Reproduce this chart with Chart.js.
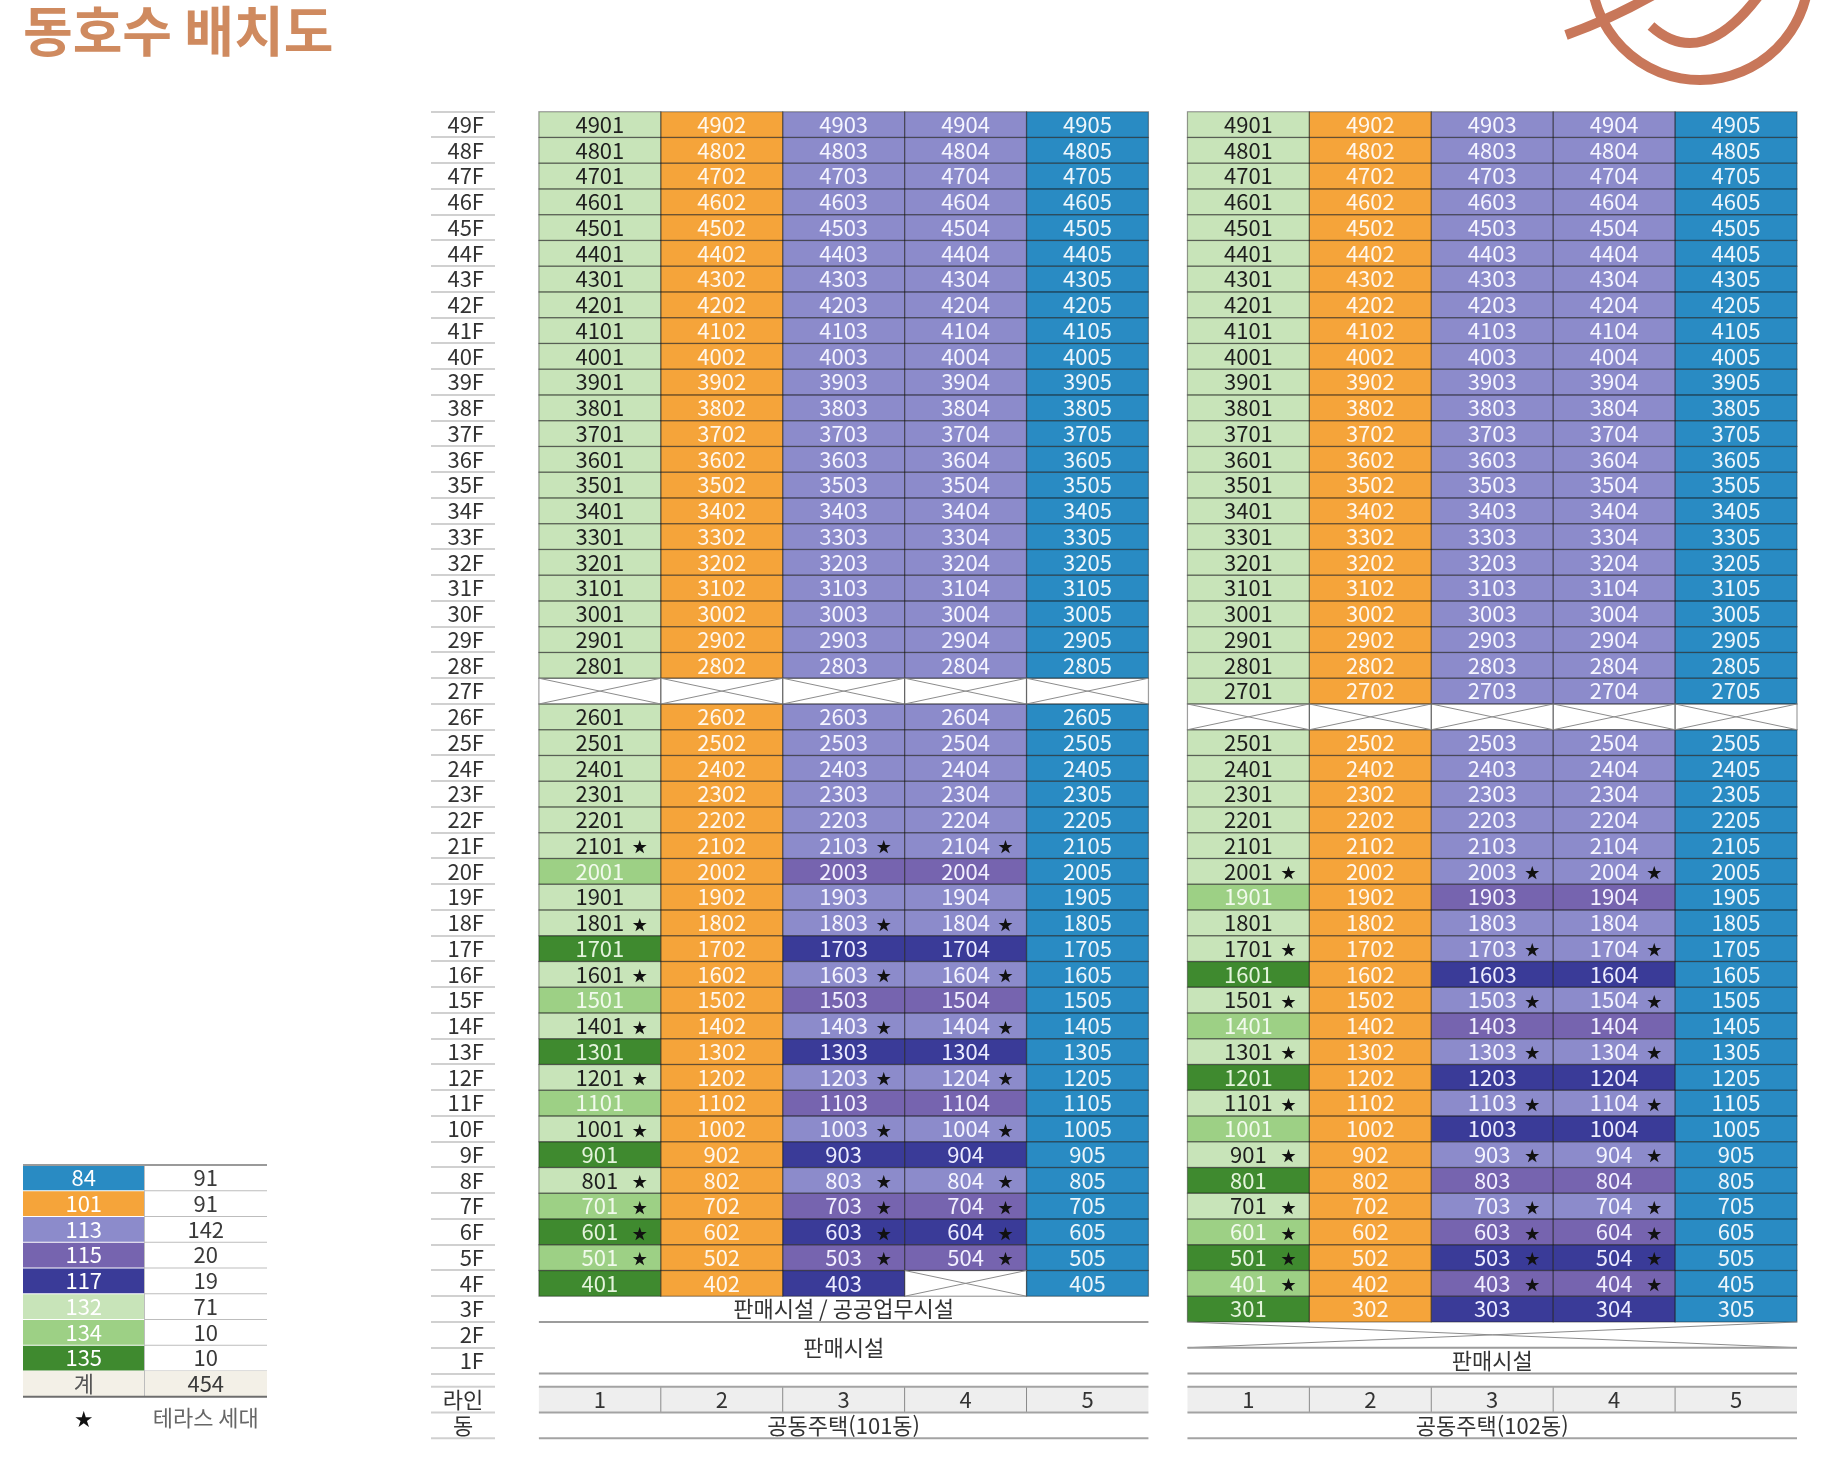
<!DOCTYPE html>
<html lang="ko">
<head>
<meta charset="utf-8">
<title>동호수 배치도</title>
<script src="https://cdn.jsdelivr.net/npm/chart.js@4.4.1/dist/chart.umd.min.js"></script>
<style>
  html, body { margin: 0; padding: 0; background: #fff; overflow: hidden; }
  .chart-box { width: 1825px; height: 1468px; }
</style>
</head>
<body>
<div class="chart-box"><canvas id="plan"></canvas></div>
<script>
// floors, top to bottom (y axis labels)
const floors = [
  '49F', '48F', '47F', '46F', '45F', '44F', '43F', '42F', '41F', '40F',
  '39F', '38F', '37F', '36F', '35F', '34F', '33F', '32F', '31F', '30F',
  '29F', '28F', '27F', '26F', '25F', '24F', '23F', '22F', '21F', '20F',
  '19F', '18F', '17F', '16F', '15F', '14F', '13F', '12F', '11F', '10F',
  '9F', '8F', '7F', '6F', '5F', '4F', '3F', '2F', '1F'
];
const lineNumbers = [1, 2, 3, 4, 5];
const buildingNames = ['공동주택(101동)', '공동주택(102동)'];

// unit types (m2) and number of units
const unitTypes = [84, 101, 113, 115, 117, 132, 134, 135];
const unitCounts = [91, 91, 142, 20, 19, 71, 10, 10];
const unitTotal = 454;

// unit type per floor, 49F -> 1F.  0 = crossed out cell, null = no flat
const b101Line1 = [
  132, 132, 132, 132, 132, 132, 132, 132, 132, 132,
  132, 132, 132, 132, 132, 132, 132, 132, 132, 132,
  132, 132, 0, 132, 132, 132, 132, 132, 132, 134,
  132, 132, 135, 132, 134, 132, 135, 132, 134, 132,
  135, 132, 134, 135, 134, 135, null, null, null
];
const b101Line2 = [
  101, 101, 101, 101, 101, 101, 101, 101, 101, 101,
  101, 101, 101, 101, 101, 101, 101, 101, 101, 101,
  101, 101, 0, 101, 101, 101, 101, 101, 101, 101,
  101, 101, 101, 101, 101, 101, 101, 101, 101, 101,
  101, 101, 101, 101, 101, 101, null, null, null
];
const b101Line3 = [
  113, 113, 113, 113, 113, 113, 113, 113, 113, 113,
  113, 113, 113, 113, 113, 113, 113, 113, 113, 113,
  113, 113, 0, 113, 113, 113, 113, 113, 113, 115,
  113, 113, 117, 113, 115, 113, 117, 113, 115, 113,
  117, 113, 115, 117, 115, 117, null, null, null
];
const b101Line4 = [
  113, 113, 113, 113, 113, 113, 113, 113, 113, 113,
  113, 113, 113, 113, 113, 113, 113, 113, 113, 113,
  113, 113, 0, 113, 113, 113, 113, 113, 113, 115,
  113, 113, 117, 113, 115, 113, 117, 113, 115, 113,
  117, 113, 115, 117, 115, 0, null, null, null
];
const b101Line5 = [
  84, 84, 84, 84, 84, 84, 84, 84, 84, 84,
  84, 84, 84, 84, 84, 84, 84, 84, 84, 84,
  84, 84, 0, 84, 84, 84, 84, 84, 84, 84,
  84, 84, 84, 84, 84, 84, 84, 84, 84, 84,
  84, 84, 84, 84, 84, 84, null, null, null
];

const b102Line1 = [
  132, 132, 132, 132, 132, 132, 132, 132, 132, 132,
  132, 132, 132, 132, 132, 132, 132, 132, 132, 132,
  132, 132, 132, 0, 132, 132, 132, 132, 132, 132,
  134, 132, 132, 135, 132, 134, 132, 135, 132, 134,
  132, 135, 132, 134, 135, 134, 135, null, null
];
const b102Line2 = [
  101, 101, 101, 101, 101, 101, 101, 101, 101, 101,
  101, 101, 101, 101, 101, 101, 101, 101, 101, 101,
  101, 101, 101, 0, 101, 101, 101, 101, 101, 101,
  101, 101, 101, 101, 101, 101, 101, 101, 101, 101,
  101, 101, 101, 101, 101, 101, 101, null, null
];
const b102Line3 = [
  113, 113, 113, 113, 113, 113, 113, 113, 113, 113,
  113, 113, 113, 113, 113, 113, 113, 113, 113, 113,
  113, 113, 113, 0, 113, 113, 113, 113, 113, 113,
  115, 113, 113, 117, 113, 115, 113, 117, 113, 117,
  113, 115, 113, 115, 117, 115, 117, null, null
];
const b102Line4 = [
  113, 113, 113, 113, 113, 113, 113, 113, 113, 113,
  113, 113, 113, 113, 113, 113, 113, 113, 113, 113,
  113, 113, 113, 0, 113, 113, 113, 113, 113, 113,
  115, 113, 113, 117, 113, 115, 113, 117, 113, 117,
  113, 115, 113, 115, 117, 115, 117, null, null
];
const b102Line5 = [
  84, 84, 84, 84, 84, 84, 84, 84, 84, 84,
  84, 84, 84, 84, 84, 84, 84, 84, 84, 84,
  84, 84, 84, 0, 84, 84, 84, 84, 84, 84,
  84, 84, 84, 84, 84, 84, 84, 84, 84, 84,
  84, 84, 84, 84, 84, 84, 84, null, null
];

// terrace units (★)
const b101Stars = [2101, 2103, 2104, 1801, 1803, 1804, 1601, 1603, 1604, 1401, 1403, 1404,
  1201, 1203, 1204, 1001, 1003, 1004, 801, 803, 804, 701, 703, 704, 601, 603, 604, 501, 503, 504];
const b102Stars = [2001, 2003, 2004, 1701, 1703, 1704, 1501, 1503, 1504, 1301, 1303, 1304,
  1101, 1103, 1104, 901, 903, 904, 701, 703, 704, 601, 603, 604, 501, 503, 504, 401, 403, 404];

// non-residential floors: building, top floor, bottom floor, label
const podiumBlocks = [
  [0, '3F', '3F', '판매시설 / 공공업무시설'],
  [0, '2F', '1F', '판매시설'],
  [1, '2F', '2F', ''],
  [1, '1F', '1F', '판매시설']
];
const podiumCrossed = [[1, '2F']];

// ---- styles / layout ----
const FONT = '"Noto Sans CJK KR", "Noto Sans", sans-serif';
const typeColors = ['#298bc3', '#f5a43a', '#8c8bcb', '#7664af', '#3a3b98', '#c8e4b9', '#9dd085', '#3f8a2f'];
const typeTextColors = ['#eef6fb', '#fff7ec', '#f5f5ff', '#f3f0ff', '#ececff', '#1e1e1e', '#f1faec', '#e4f4dc'];
const buildingOffset = [0, 5.32];   // where line 1 of each building starts, in line widths
const ROW_GAP = 13.3;               // space between 1F and the line-number row

const buildings = [
  [b101Line1, b101Line2, b101Line3, b101Line4, b101Line5],
  [b102Line1, b102Line2, b102Line3, b102Line4, b102Line5]
];
const stars = [b101Stars, b102Stars];

const typeData = unitTypes.map(() => []);
const crossedCells = [];
buildings.forEach((lines, b) => {
  lines.forEach((col, l) => {
    col.forEach((t, f) => {
      if (t === null) return;
      const x0 = buildingOffset[b] + l;
      const pt = { y: floors[f], x: [x0, x0 + 1], b: b, line: lineNumbers[l] };
      if (t === 0) crossedCells.push(pt);
      else typeData[unitTypes.indexOf(t)].push(pt);
    });
  });
});
const podiumData = podiumCrossed.map(([b, fl]) => ({
  y: fl, x: [buildingOffset[b], buildingOffset[b] + lineNumbers.length]
}));

const barStyle = {
  grouped: false, categoryPercentage: 1, barPercentage: 1,
  borderWidth: 0, inflateAmount: 0
};
const datasets = unitTypes.map((t, i) => ({
  ...barStyle, label: String(t), data: typeData[i], backgroundColor: typeColors[i]
}));
datasets.push({ ...barStyle, label: 'crossed', data: crossedCells, backgroundColor: '#ffffff' });
datasets.push({ ...barStyle, label: 'podium', data: podiumData, backgroundColor: '#ffffff' });

const lineTicks = [];
buildingOffset.forEach(off => lineNumbers.forEach(n => lineTicks.push(off + n - 0.5)));

function hline(ctx, x1, x2, y, color, width) {
  ctx.strokeStyle = color;
  ctx.lineWidth = width;
  ctx.beginPath();
  ctx.moveTo(x1, y);
  ctx.lineTo(x2, y);
  ctx.stroke();
}

function cellBox(el) {
  const p = el.getProps(['x', 'y', 'base', 'height'], true);
  return {
    left: Math.min(p.x, p.base), right: Math.max(p.x, p.base),
    top: p.y - p.height / 2, bottom: p.y + p.height / 2
  };
}

function drawLegend(ctx, rowH) {
  const x0 = 23, x1 = 144.5, x2 = 267, y0 = 1165;
  ctx.textAlign = 'center';
  ctx.textBaseline = 'middle';
  ctx.font = `22px ${FONT}`;
  unitTypes.forEach((t, i) => {
    const top = y0 + i * rowH;
    ctx.fillStyle = typeColors[i];
    ctx.fillRect(x0, top + 0.5, x1 - x0, rowH - 1);
    ctx.fillStyle = '#ffffff';
    ctx.fillText(String(t), (x0 + x1) / 2, top + rowH / 2);
    ctx.fillStyle = '#3a3a3a';
    ctx.fillText(String(unitCounts[i]), (x1 + x2) / 2, top + rowH / 2);
    hline(ctx, x1, x2, top + rowH, '#bdbdbd', 1);
  });
  const sumTop = y0 + unitTypes.length * rowH;
  ctx.fillStyle = '#f3f0e7';
  ctx.fillRect(x0, sumTop, x2 - x0, rowH);
  ctx.fillStyle = '#555';
  ctx.fillText('계', (x0 + x1) / 2, sumTop + rowH / 2);
  ctx.fillStyle = '#3a3a3a';
  ctx.fillText(String(unitTotal), (x1 + x2) / 2, sumTop + rowH / 2);
  ctx.strokeStyle = '#bdbdbd';
  ctx.lineWidth = 1;
  ctx.beginPath();
  ctx.moveTo(x1, y0);
  ctx.lineTo(x1, sumTop + rowH);
  ctx.stroke();
  hline(ctx, x0, x2, y0, '#9a9a9a', 2);
  hline(ctx, x0, x2, sumTop + rowH, '#6e6e6e', 2);
  ctx.fillStyle = '#111';
  ctx.font = `18px ${FONT}`;
  ctx.fillText('★', (x0 + x1) / 2, sumTop + rowH + 22);
  ctx.fillStyle = '#666';
  ctx.font = `22px ${FONT}`;
  ctx.fillText('테라스 세대', (x1 + x2) / 2, sumTop + rowH + 21);
}

function drawLogo(ctx) {
  ctx.save();
  ctx.strokeStyle = '#c8775a';
  ctx.lineWidth = 10;
  ctx.lineCap = 'butt';
  ctx.beginPath();
  ctx.arc(1700, -29, 109, -0.2, 3.0);
  ctx.stroke();
  ctx.beginPath();
  ctx.moveTo(1651, 26);
  ctx.quadraticCurveTo(1702, 72, 1760, -6);
  ctx.stroke();
  ctx.beginPath();
  ctx.moveTo(1566, 35);
  ctx.quadraticCurveTo(1614, 18, 1662, -10);
  ctx.stroke();
  ctx.restore();
}

const planPlugin = {
  id: 'plan',
  beforeDraw(chart) {
    const { ctx, chartArea, scales: { x } } = chart;
    const pitch = (chartArea.bottom - chartArea.top) / floors.length;
    const top = chartArea.bottom + ROW_GAP;
    ctx.save();
    buildingOffset.forEach(off => {
      const l = x.getPixelForValue(off);
      const r = x.getPixelForValue(off + lineNumbers.length);
      ctx.fillStyle = '#eeeeee';
      ctx.fillRect(l, top, r - l, pitch);
      ctx.strokeStyle = '#8a8a8a';
      ctx.lineWidth = 1;
      for (let i = 1; i < lineNumbers.length; i++) {
        const px = x.getPixelForValue(off + i);
        ctx.beginPath();
        ctx.moveTo(px, top);
        ctx.lineTo(px, top + pitch);
        ctx.stroke();
      }
    });
    ctx.restore();
  },
  afterDatasetsDraw(chart) {
    const { ctx } = chart;
    ctx.save();
    // cell edges
    chart.data.datasets.forEach((ds, i) => {
      if (ds.label === 'podium') return;
      chart.getDatasetMeta(i).data.forEach(el => {
        const c = cellBox(el);
        ctx.strokeStyle = 'rgba(25,25,25,0.42)';
        ctx.lineWidth = 1.2;
        ctx.strokeRect(c.left, c.top, c.right - c.left, c.bottom - c.top);
      });
    });
    // crosses
    chart.data.datasets.forEach((ds, i) => {
      if (ds.label !== 'crossed' && ds.label !== 'podium') return;
      chart.getDatasetMeta(i).data.forEach(el => {
        const c = cellBox(el);
        ctx.strokeStyle = '#8c8c8c';
        ctx.lineWidth = 1;
        ctx.beginPath();
        ctx.moveTo(c.left, c.top);
        ctx.lineTo(c.right, c.bottom);
        ctx.moveTo(c.left, c.bottom);
        ctx.lineTo(c.right, c.top);
        ctx.stroke();
      });
    });
    // unit numbers
    ctx.textAlign = 'center';
    ctx.textBaseline = 'middle';
    unitTypes.forEach((t, i) => {
      const ds = chart.data.datasets[i];
      chart.getDatasetMeta(i).data.forEach((el, j) => {
        const p = ds.data[j];
        const c = el.getCenterPoint(true);
        const unit = parseInt(p.y, 10) * 100 + p.line;
        ctx.font = `22px ${FONT}`;
        ctx.fillStyle = typeTextColors[i];
        ctx.fillText(String(unit), c.x, c.y);
        if (stars[p.b].includes(unit)) {
          ctx.font = `15px ${FONT}`;
          ctx.fillStyle = '#111';
          ctx.fillText('★', c.x + 40, c.y + 1);
        }
      });
    });
    ctx.restore();
  },
  afterDraw(chart) {
    const { ctx, chartArea, scales: { x, y } } = chart;
    const pitch = (chartArea.bottom - chartArea.top) / floors.length;
    ctx.save();
    ctx.textAlign = 'center';
    ctx.textBaseline = 'middle';
    ctx.font = `22px ${FONT}`;
    podiumBlocks.forEach(([b, from, to, label]) => {
      const l = x.getPixelForValue(buildingOffset[b]);
      const r = x.getPixelForValue(buildingOffset[b] + lineNumbers.length);
      const cy = (y.getPixelForValue(from) + y.getPixelForValue(to)) / 2;
      if (label) {
        ctx.fillStyle = '#333';
        ctx.fillText(label, (l + r) / 2, cy);
      }
      hline(ctx, l, r, y.getPixelForValue(to) + pitch / 2, '#9c9c9c', 2);
    });
    const rowTop = chartArea.bottom + ROW_GAP;
    buildingNames.forEach((name, b) => {
      const l = x.getPixelForValue(buildingOffset[b]);
      const r = x.getPixelForValue(buildingOffset[b] + lineNumbers.length);
      hline(ctx, l, r, rowTop, '#a3a3a3', 2);
      hline(ctx, l, r, rowTop + pitch, '#a3a3a3', 2);
      hline(ctx, l, r, rowTop + 2 * pitch, '#a3a3a3', 2);
      ctx.fillStyle = '#333';
      ctx.fillText(name, (l + r) / 2, rowTop + 1.5 * pitch);
    });
    const tickLeft = y.right - y.options.grid.tickLength;
    const labelX = (tickLeft + y.right) / 2;
    ctx.fillStyle = '#333';
    ctx.fillText('라인', labelX, rowTop + pitch / 2);
    ctx.fillText('동', labelX, rowTop + 1.5 * pitch);
    [0, 1, 2].forEach(k => hline(ctx, tickLeft, y.right, rowTop + k * pitch, '#d0d0d0', 2));
    drawLegend(ctx, pitch);
    drawLogo(ctx);
    ctx.restore();
  }
};

new Chart(document.getElementById('plan'), {
  type: 'bar',
  data: { labels: floors, datasets: datasets },
  plugins: [planPlugin],
  options: {
    indexAxis: 'y',
    responsive: true,
    maintainAspectRatio: false,
    animation: false,
    events: [],
    layout: { padding: { left: 23, right: 28, top: 0, bottom: 0 } },
    plugins: {
      legend: { display: false },
      tooltip: { enabled: false },
      title: {
        display: true,
        text: '동호수 배치도',
        align: 'start',
        color: '#cf8a5f',
        font: { family: FONT, size: 54, weight: 'bold', lineHeight: 1.15 },
        padding: { top: 0, bottom: 49.6 }
      }
    },
    scales: {
      y: {
        type: 'category',
        offset: true,
        border: { display: false },
        grid: { offset: true, drawOnChartArea: false, drawTicks: true, tickLength: 64, color: '#d0d0d0', lineWidth: 2 },
        ticks: { autoSkip: false, crossAlign: 'near', padding: -53, color: '#333', font: { family: FONT, size: 22 } },
        afterFit: (axis) => { axis.width = 472; }
      },
      x: {
        type: 'linear',
        min: -0.36,
        max: 10.32,
        border: { display: false },
        grid: { display: false, drawTicks: false },
        ticks: {
          autoSkip: false, maxRotation: 0, padding: 12.5, color: '#333',
          font: { family: FONT, size: 22 },
          callback: (value, index) => lineNumbers[index % lineNumbers.length]
        },
        afterBuildTicks: (axis) => { axis.ticks = lineTicks.map(v => ({ value: v })); },
        afterFit: (axis) => { axis.height = 94.5; }
      }
    }
  }
});
</script>
</body>
</html>
